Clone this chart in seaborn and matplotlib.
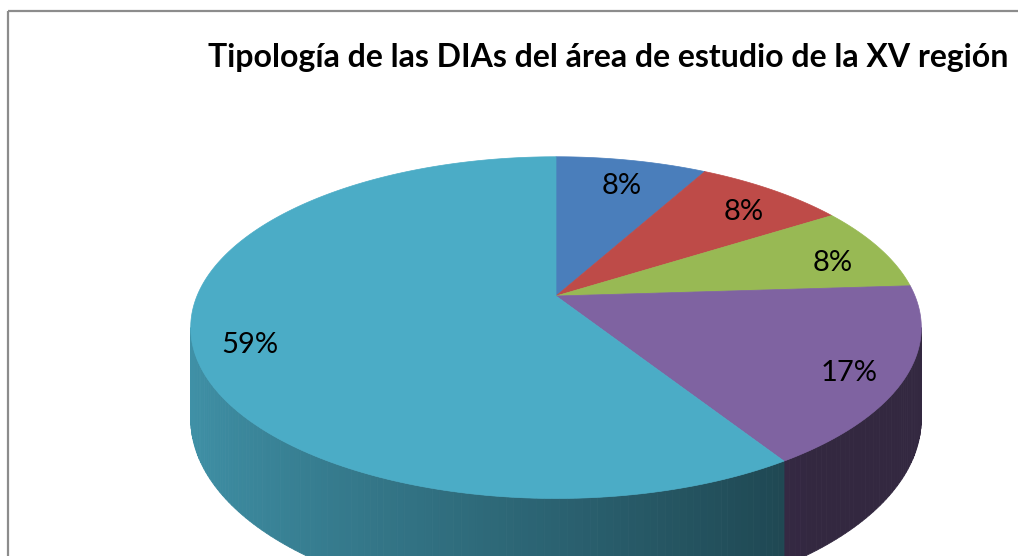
import numpy as np
import matplotlib
matplotlib.use('Agg')
import matplotlib.pyplot as plt
from matplotlib.patches import Rectangle
import seaborn as sns

# Chart data (percentages as printed on the slices)
values = [8, 8, 8, 17, 59]
labels = ['%d%%' % v for v in values]
colors = ['#4A7EBB', '#BE4B48', '#98B954', '#7F63A1', '#4BACC6']
title = 'Tipología de las DIAs del área de estudio de la XV región'

sns.set_style('white')
plt.rcParams['font.family'] = ['Lato', 'DejaVu Sans']

# 3D pie geometry (pixel units of the output image)
CX, CY = 556, 296     # slice apex on screen
R = 359               # horizontal radius
H = 165               # vertical radius (tilt)
K = 0.185             # perspective strength
DEPTH = 88            # thickness of the pie


def proj(t, r=1.0, h=0.0):
    # project a point of the disk (angle t in degrees, radius r) to the screen
    u = r * np.cos(np.radians(t))
    v = r * np.sin(np.radians(t))
    w = 1.0 / (1.0 + K * v)
    return CX + R * u * w, CY - H * v * w + DEPTH * h * w


fig = plt.figure(figsize=(10.18, 5.56), dpi=100)
ax = fig.add_axes([0, 0, 1, 1])
ax.set_xlim(0, 1018)
ax.set_ylim(556, 0)
ax.axis('off')

# start at 12 o'clock, go clockwise
edges = 90 - 360 * np.concatenate([[0], np.cumsum(values)]) / sum(values)

# side wall: only the part turned to the viewer
t_lo = -180 + np.degrees(np.arcsin(K))
t_hi = -np.degrees(np.arcsin(K))
strips = []
for i in range(len(values)):
    a, b = edges[i + 1], edges[i]
    for lo in (a, a + 360, a - 360):
        s0, s1 = max(lo, t_lo), min(lo + (b - a), t_hi)
        if s1 <= s0:
            continue
        ts = np.linspace(s0, s1, max(2, int((s1 - s0) / 1.0) + 2))
        for j in range(len(ts) - 1):
            strips.append((ts[j], ts[j + 1], colors[i]))

strips.sort(key=lambda s: -np.sin(np.radians((s[0] + s[1]) / 2)))
for t0, t1, c in strips:
    tt = np.linspace(t0, t1, 3)
    xt, yt = proj(tt)
    xb, yb = proj(tt[::-1], h=1)
    u = np.cos(np.radians((t0 + t1) / 2))
    f = 0.85 - 0.45 * np.clip((u + 1) / 1.6, 0, 1)
    rgb = np.array(matplotlib.colors.to_rgb(c)) * f
    ax.fill(np.r_[xt, xb], np.r_[yt, yb], color=rgb, lw=0.6, ec=rgb, zorder=2)

# top face
for i in range(len(values)):
    tt = np.linspace(edges[i], edges[i + 1], 200)
    xs, ys = proj(tt)
    ax.fill(np.r_[CX, xs], np.r_[CY, ys], color=colors[i], lw=0.5,
            ec=colors[i], zorder=3)

# percentage labels
for i in range(len(values)):
    mid = (edges[i] + edges[i + 1]) / 2
    lx, ly = proj(mid, r=0.85)
    ax.text(lx, ly + 8, labels[i], fontsize=21, ha='center', va='center',
            color='black', zorder=5)

ax.text(608, 58, title, fontsize=23, fontweight='bold', ha='center',
        va='center', color='black', zorder=5)

# chart frame (cropped at right and bottom)
ax.add_patch(Rectangle((8.5, 10.5), 1030, 600, fill=False, ec='#8C8C8C',
                       lw=1.6, zorder=6))

fig.savefig('out.png', dpi=100)
